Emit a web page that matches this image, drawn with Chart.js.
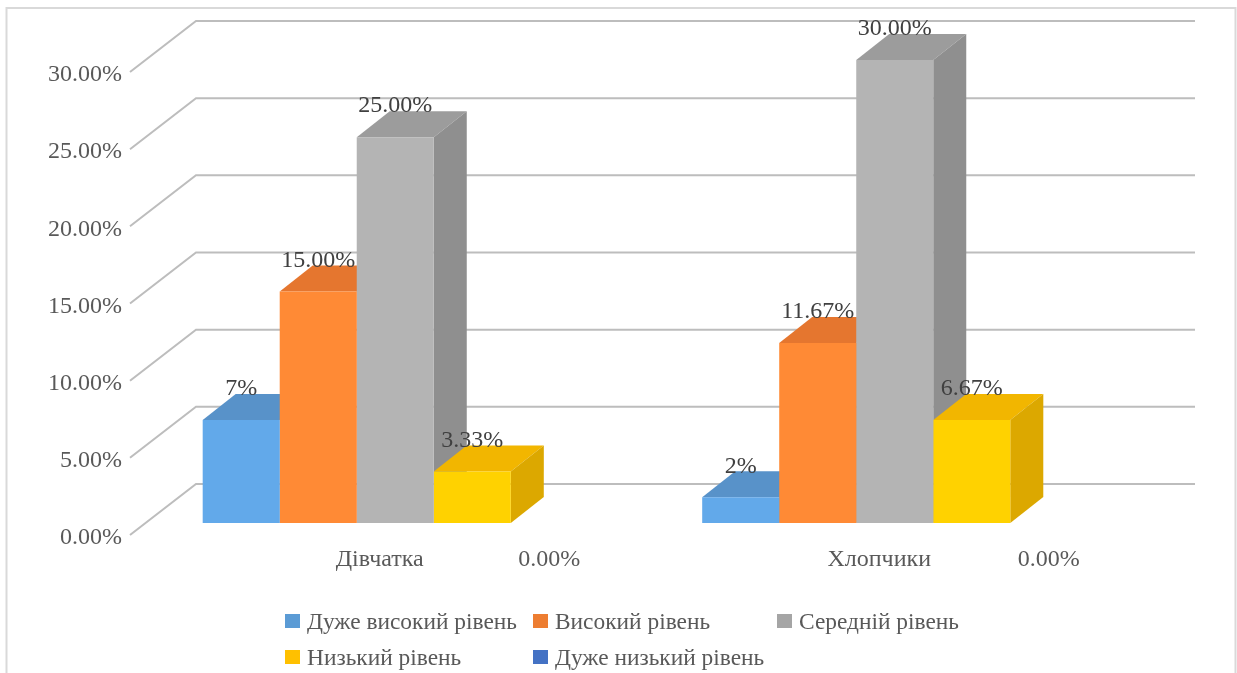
<!DOCTYPE html>
<html>
<head>
<meta charset="utf-8">
<script src="https://cdn.jsdelivr.net/npm/chart.js@4"></script>
<style>
  html, body { margin: 0; padding: 0; background: #fff; overflow: hidden; }
  canvas { display: block; }
</style>
</head>
<body>
<canvas id="chart" width="1237" height="673"></canvas>
<script>
const categories = ["Дівчатка", "Хлопчики"];
const seriesNames = ["Дуже високий рівень", "Високий рівень", "Середній рівень", "Низький рівень", "Дуже низький рівень"];
const veryHigh = [6.67, 1.67];
const high = [15.0, 11.67];
const medium = [25.0, 30.0];
const low = [3.33, 6.67];
const veryLow = [0, 0];
const yTicks = [0, 5, 10, 15, 20, 25, 30];

const FONT = '"Liberation Serif", serif';
const FONT_SIZE = 24;
const LEGEND_FONT_SIZE = 23.4;

// depth of the fake 3D view, in pixels
const tickDrop = 3; // the axis text sits a little under its grid line
const wall = { x: 66, y: 51 };
const barShift = { x: 15.5, y: 12 + tickDrop };
const barDepth = { x: 33, y: 26 };

const makeSeries = (label, data, colors, digits) => ({
    label: label,
    data: data,
    backgroundColor: colors.front,
    borderWidth: 0,
    topColor: colors.top,
    sideColor: colors.side,
    legendColor: colors.edge,
    labelDigits: digits,
});

const poly = (ctx, pts, fill) => {
    ctx.beginPath();
    pts.forEach((p, i) => (i ? ctx.lineTo(p[0], p[1]) : ctx.moveTo(p[0], p[1])));
    ctx.closePath();
    ctx.fillStyle = fill;
    ctx.fill();
};

// outer frame and the back wall with its grid lines
const wallPlugin = {
    id: "wall",
    beforeDraw(chart) {
        const ctx = chart.ctx;
        const area = chart.chartArea;
        const y = chart.scales.y;
        ctx.save();
        ctx.fillStyle = "#fff";
        ctx.fillRect(0, 0, chart.width, chart.height);
        ctx.strokeStyle = "#d9d9d9";
        ctx.lineWidth = 2;
        ctx.strokeRect(6.5, 8, 1229, 700);
        ctx.strokeStyle = "#bdbdbd";
        ctx.lineWidth = 2;
        yTicks.forEach((t) => {
            const py = y.getPixelForValue(t) - tickDrop;
            ctx.beginPath();
            ctx.moveTo(area.left, py);
            ctx.lineTo(area.left + wall.x, py - wall.y);
            ctx.lineTo(area.right + wall.x, py - wall.y);
            ctx.stroke();
        });
        ctx.restore();
    },
};

// top and side faces go down first, left to right; the library then paints
// the front faces over them, shifted onto the floor
const depthPlugin = {
    id: "depth",
    beforeDatasetsDraw(chart) {
        const ctx = chart.ctx;
        ctx.save();
        ctx.translate(barShift.x, -barShift.y);
        chart.data.datasets.forEach((ds, d) => {
            chart.getDatasetMeta(d).data.forEach((bar, i) => {
                if (!ds.data[i]) return;
                const l = bar.x - bar.width / 2;
                const r = bar.x + bar.width / 2;
                const t = bar.y;
                const b = bar.base;
                poly(ctx, [[l, t], [r, t], [r + barDepth.x, t - barDepth.y], [l + barDepth.x, t - barDepth.y]], ds.topColor);
                poly(ctx, [[r, t], [r + barDepth.x, t - barDepth.y], [r + barDepth.x, b - barDepth.y], [r, b]], ds.sideColor);
            });
        });
        ctx.restore();
    },
    beforeDatasetDraw(chart) {
        chart.ctx.save();
        chart.ctx.translate(barShift.x, -barShift.y);
    },
    afterDatasetDraw(chart) {
        chart.ctx.restore();
    },
};

const labelPlugin = {
    id: "valueLabels",
    afterDatasetsDraw(chart) {
        const ctx = chart.ctx;
        ctx.save();
        ctx.font = FONT_SIZE + "px " + FONT;
        ctx.textAlign = "center";
        ctx.textBaseline = "middle";
        chart.data.datasets.forEach((ds, d) => {
            chart.getDatasetMeta(d).data.forEach((bar, i) => {
                const v = ds.data[i];
                const py = v ? bar.y - barShift.y - 31 : chart.scales.y.getPixelForValue(0) + 22;
                ctx.fillStyle = v ? "#404040" : "#595959";
                ctx.fillText(v.toFixed(ds.labelDigits) + "%", bar.x + barShift.x, py);
            });
        });
        ctx.restore();
    },
};

// the legend sits in fixed columns, which the built-in one cannot do
const legendColumns = [285, 533, 777];
const legendRows = [621, 657];
const legendPlugin = {
    id: "gridLegend",
    afterDraw(chart) {
        const ctx = chart.ctx;
        ctx.save();
        ctx.font = LEGEND_FONT_SIZE + "px " + FONT;
        ctx.textAlign = "left";
        ctx.textBaseline = "middle";
        chart.data.datasets.forEach((ds, i) => {
            const x = legendColumns[i % 3];
            const y = legendRows[Math.floor(i / 3)];
            ctx.fillStyle = ds.legendColor;
            ctx.fillRect(x, y - 7, 15, 14);
            ctx.fillStyle = "#595959";
            ctx.fillText(ds.label, x + 22, y + 2);
        });
        ctx.restore();
    },
};

const datasets = [
    makeSeries(seriesNames[0], veryHigh, { front: "#62a9ea", edge: "#5b9bd5", top: "#5892c9", side: "#4f86b8" }, 0),
    makeSeries(seriesNames[1], high, { front: "#ff8a35", edge: "#ed7d31", top: "#e5762f", side: "#cc6a29" }, 2),
    makeSeries(seriesNames[2], medium, { front: "#b4b4b4", edge: "#a5a5a5", top: "#9c9c9c", side: "#8f8f8f" }, 2),
    makeSeries(seriesNames[3], low, { front: "#ffd200", edge: "#ffc000", top: "#f2b600", side: "#dca800" }, 2),
    makeSeries(seriesNames[4], veryLow, { front: "#4a7dd6", edge: "#4472c4", top: "#4069b5", side: "#3a60a6" }, 2),
];

new Chart(document.getElementById("chart"), {
    type: "bar",
    data: { labels: categories, datasets: datasets },
    plugins: [wallPlugin, depthPlugin, labelPlugin, legendPlugin],
    options: {
        responsive: false,
        animation: false,
        devicePixelRatio: 1,
        layout: { padding: { top: 72 + tickDrop, right: 108, bottom: 0, left: 0 } },
        datasets: { bar: { categoryPercentage: 0.771, barPercentage: 1 } },
        plugins: { legend: { display: false }, tooltip: { enabled: false } },
        scales: {
            x: {
                grid: { display: false, drawTicks: false },
                border: { display: false },
                ticks: {
                    color: "#595959",
                    padding: 7,
                    maxRotation: 0,
                    font: { family: FONT, size: FONT_SIZE },
                },
                afterFit(scale) { scale.height = 138 - tickDrop; },
            },
            y: {
                min: 0,
                max: 30,
                grid: { display: false, drawTicks: false },
                border: { display: false },
                ticks: {
                    stepSize: 5,
                    color: "#595959",
                    padding: 8,
                    font: { family: FONT, size: FONT_SIZE },
                    callback: (v) => v.toFixed(2) + "%",
                },
                afterFit(scale) { scale.width = 130; },
            },
        },
    },
});
</script>
</body>
</html>
